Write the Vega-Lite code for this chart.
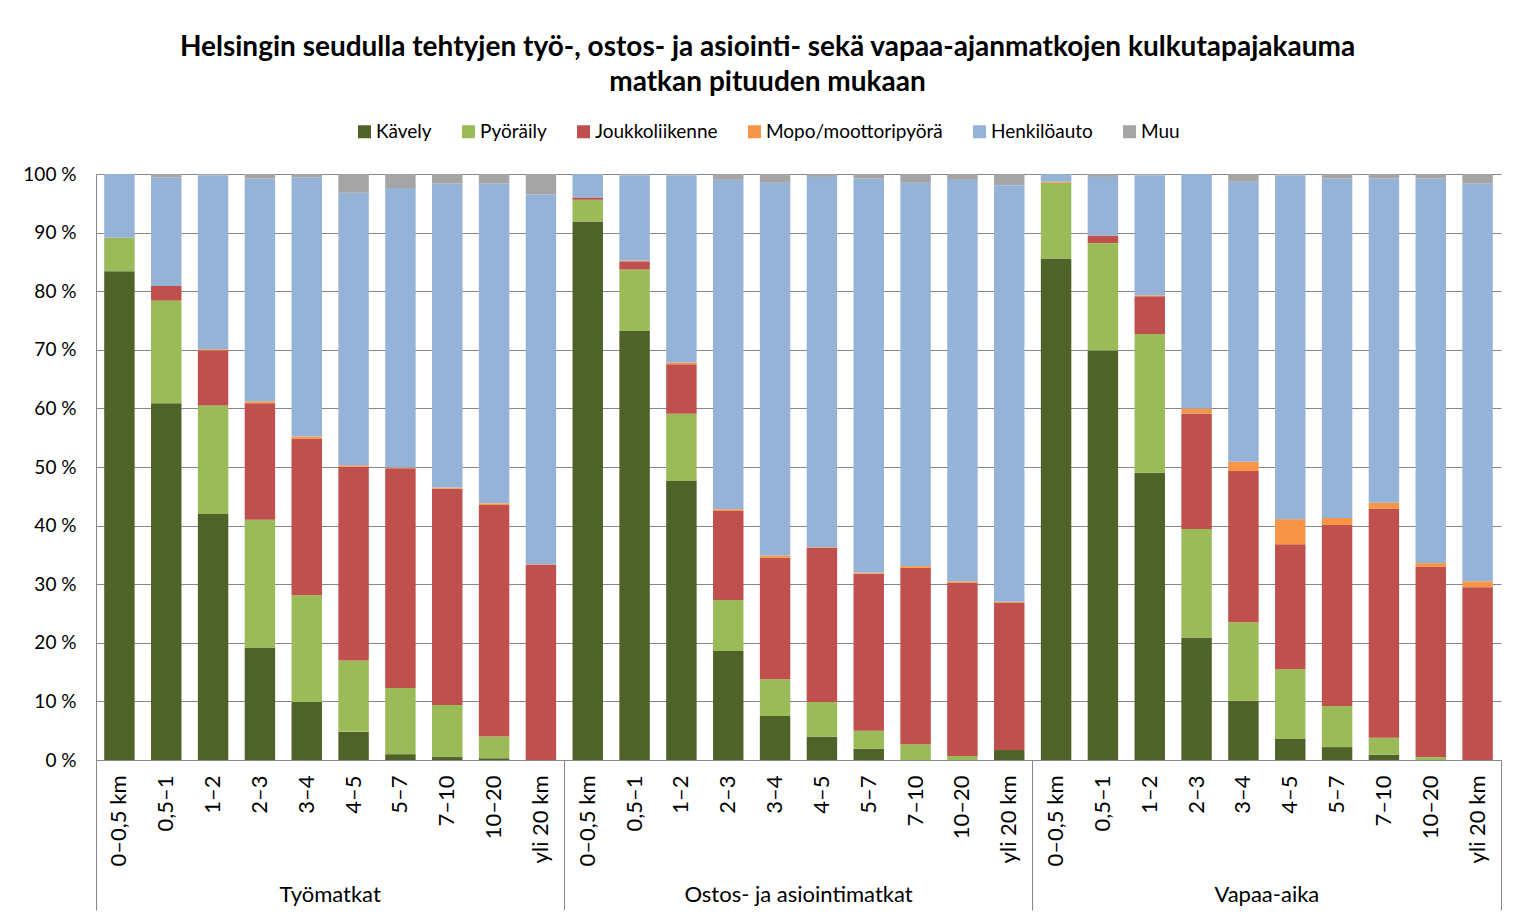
{
  "$schema": "https://vega.github.io/schema/vega-lite/v6.json",
  "width": 1405,
  "height": 586,
  "autosize": {"type": "none"},
  "padding": {"left": 96, "top": 174, "right": 24, "bottom": 159},
  "background": "white",
  "config": {"font": "Lato", "view": {"stroke": null}},
  "title": {
    "text": ["Helsingin seudulla tehtyjen työ-, ostos- ja asiointi- sekä vapaa-ajanmatkojen kulkutapajakauma", "matkan pituuden mukaan"],
    "fontSize": 28,
    "fontWeight": "bold",
    "color": "#000000",
    "anchor": "middle",
    "frame": "group",
    "dx": -31,
    "lineHeight": 35,
    "offset": 25
  },
  "datasets": {
    "modes": [
      {"m": "Kävely", "o": 1},
      {"m": "Pyöräily", "o": 2},
      {"m": "Joukkoliikenne", "o": 3},
      {"m": "Mopo/moottoripyörä", "o": 4},
      {"m": "Henkilöauto", "o": 5},
      {"m": "Muu", "o": 6}
    ]
  },
  "data": {
    "values": [
      {"k": "1-01", "Kävely": 83.4, "Pyöräily": 5.7, "Joukkoliikenne": 0, "Mopo/moottoripyörä": 0, "Henkilöauto": 10.9, "Muu": 0},
      {"k": "1-02", "Kävely": 60.9, "Pyöräily": 17.5, "Joukkoliikenne": 2.5, "Mopo/moottoripyörä": 0, "Henkilöauto": 18.5, "Muu": 0.6},
      {"k": "1-03", "Kävely": 42.0, "Pyöräily": 18.5, "Joukkoliikenne": 9.4, "Mopo/moottoripyörä": 0.2, "Henkilöauto": 29.7, "Muu": 0.2},
      {"k": "1-04", "Kävely": 19.2, "Pyöräily": 21.8, "Joukkoliikenne": 19.9, "Mopo/moottoripyörä": 0.3, "Henkilöauto": 38.0, "Muu": 0.8},
      {"k": "1-05", "Kävely": 9.9, "Pyöräily": 18.2, "Joukkoliikenne": 26.7, "Mopo/moottoripyörä": 0.4, "Henkilöauto": 44.2, "Muu": 0.6},
      {"k": "1-06", "Kävely": 4.8, "Pyöräily": 12.2, "Joukkoliikenne": 33.1, "Mopo/moottoripyörä": 0.2, "Henkilöauto": 46.5, "Muu": 3.2},
      {"k": "1-07", "Kävely": 1.0, "Pyöräily": 11.3, "Joukkoliikenne": 37.5, "Mopo/moottoripyörä": 0.1, "Henkilöauto": 47.7, "Muu": 2.4},
      {"k": "1-08", "Kävely": 0.5, "Pyöräily": 8.9, "Joukkoliikenne": 36.9, "Mopo/moottoripyörä": 0.2, "Henkilöauto": 51.85, "Muu": 1.65},
      {"k": "1-09", "Kävely": 0.3, "Pyöräily": 3.7, "Joukkoliikenne": 39.5, "Mopo/moottoripyörä": 0.3, "Henkilöauto": 54.55, "Muu": 1.65},
      {"k": "1-10", "Kävely": 0, "Pyöräily": 0, "Joukkoliikenne": 33.3, "Mopo/moottoripyörä": 0.1, "Henkilöauto": 63.1, "Muu": 3.5},
      {"k": "2-01", "Kävely": 91.9, "Pyöräily": 3.7, "Joukkoliikenne": 0.4, "Mopo/moottoripyörä": 0, "Henkilöauto": 4.0, "Muu": 0},
      {"k": "2-02", "Kävely": 73.2, "Pyöräily": 10.5, "Joukkoliikenne": 1.4, "Mopo/moottoripyörä": 0.1, "Henkilöauto": 14.6, "Muu": 0.2},
      {"k": "2-03", "Kävely": 47.6, "Pyöräily": 11.5, "Joukkoliikenne": 8.45, "Mopo/moottoripyörä": 0.3, "Henkilöauto": 31.95, "Muu": 0.2},
      {"k": "2-04", "Kävely": 18.6, "Pyöräily": 8.7, "Joukkoliikenne": 15.2, "Mopo/moottoripyörä": 0.3, "Henkilöauto": 56.2, "Muu": 1.0},
      {"k": "2-05", "Kävely": 7.5, "Pyöräily": 6.3, "Joukkoliikenne": 20.7, "Mopo/moottoripyörä": 0.4, "Henkilöauto": 63.6, "Muu": 1.5},
      {"k": "2-06", "Kävely": 4.0, "Pyöräily": 5.9, "Joukkoliikenne": 26.3, "Mopo/moottoripyörä": 0.1, "Henkilöauto": 63.2, "Muu": 0.5},
      {"k": "2-07", "Kävely": 1.9, "Pyöräily": 3.1, "Joukkoliikenne": 26.8, "Mopo/moottoripyörä": 0.2, "Henkilöauto": 67.2, "Muu": 0.8},
      {"k": "2-08", "Kävely": 0, "Pyöräily": 2.7, "Joukkoliikenne": 30.1, "Mopo/moottoripyörä": 0.3, "Henkilöauto": 65.4, "Muu": 1.5},
      {"k": "2-09", "Kävely": 0, "Pyöräily": 0.7, "Joukkoliikenne": 29.6, "Mopo/moottoripyörä": 0.2, "Henkilöauto": 68.5, "Muu": 1.0},
      {"k": "2-10", "Kävely": 1.7, "Pyöräily": 0, "Joukkoliikenne": 25.1, "Mopo/moottoripyörä": 0.2, "Henkilöauto": 71.1, "Muu": 1.9},
      {"k": "3-01", "Kävely": 85.6, "Pyöräily": 12.9, "Joukkoliikenne": 0, "Mopo/moottoripyörä": 0.2, "Henkilöauto": 1.3, "Muu": 0},
      {"k": "3-02", "Kävely": 69.9, "Pyöräily": 18.3, "Joukkoliikenne": 1.3, "Mopo/moottoripyörä": 0, "Henkilöauto": 10.0, "Muu": 0.5},
      {"k": "3-03", "Kävely": 49.0, "Pyöräily": 23.7, "Joukkoliikenne": 6.45, "Mopo/moottoripyörä": 0.15, "Henkilöauto": 20.5, "Muu": 0.2},
      {"k": "3-04", "Kävely": 20.9, "Pyöräily": 18.5, "Joukkoliikenne": 19.75, "Mopo/moottoripyörä": 0.85, "Henkilöauto": 40.0, "Muu": 0},
      {"k": "3-05", "Kävely": 10.1, "Pyöräily": 13.4, "Joukkoliikenne": 25.8, "Mopo/moottoripyörä": 1.6, "Henkilöauto": 47.8, "Muu": 1.3},
      {"k": "3-06", "Kävely": 3.6, "Pyöräily": 11.9, "Joukkoliikenne": 21.3, "Mopo/moottoripyörä": 4.3, "Henkilöauto": 58.7, "Muu": 0.2},
      {"k": "3-07", "Kävely": 2.2, "Pyöräily": 7.0, "Joukkoliikenne": 30.9, "Mopo/moottoripyörä": 1.2, "Henkilöauto": 57.9, "Muu": 0.8},
      {"k": "3-08", "Kävely": 0.9, "Pyöräily": 2.9, "Joukkoliikenne": 39.1, "Mopo/moottoripyörä": 1.0, "Henkilöauto": 55.3, "Muu": 0.8},
      {"k": "3-09", "Kävely": 0, "Pyöräily": 0.5, "Joukkoliikenne": 32.45, "Mopo/moottoripyörä": 0.65, "Henkilöauto": 65.6, "Muu": 0.8},
      {"k": "3-10", "Kävely": 0, "Pyöräily": 0, "Joukkoliikenne": 29.5, "Mopo/moottoripyörä": 1.0, "Henkilöauto": 67.85, "Muu": 1.65}
    ]
  },
  "transform": [
    {"fold": ["Kävely", "Pyöräily", "Joukkoliikenne", "Mopo/moottoripyörä", "Henkilöauto", "Muu"], "as": ["m", "v"]},
    {"lookup": "m", "from": {"data": {"name": "modes"}, "key": "m", "fields": ["o"]}}
  ],
  "layer": [
    {
      "mark": {"type": "bar", "width": {"band": 0.65}},
      "encoding": {
        "x": {
          "field": "k", "type": "nominal",
          "scale": {"paddingInner": 0, "paddingOuter": 0},
          "axis": {
            "orient": "bottom", "title": null, "labelAngle": -90,
            "labelExpr": "['0–0,5 km','0,5–1','1–2','2–3','3–4','4–5','5–7','7–10','10–20','yli 20 km'][toNumber(substring(datum.value,2,4))-1]",
            "labelFontSize": 22, "labelColor": "#000000", "labelPadding": 15,
            "ticks": false, "domainColor": "#868686", "grid": false
          }
        },
        "y": {
          "field": "v", "type": "quantitative", "stack": "normalize",
          "scale": {"domain": [0, 1]},
          "axis": {
            "title": null, "values": [0, 0.1, 0.2, 0.3, 0.4, 0.5, 0.6, 0.7, 0.8, 0.9, 1],
            "labelExpr": "round(datum.value*100) + ' %'",
            "ticks": false, "labelPadding": 20, "labelFontSize": 19, "labelColor": "#000000",
            "gridColor": "#868686", "domainColor": "#868686"
          }
        },
        "color": {
          "field": "m", "type": "nominal",
          "scale": {
            "domain": ["Kävely", "Pyöräily", "Joukkoliikenne", "Mopo/moottoripyörä", "Henkilöauto", "Muu"],
            "range": ["#4F6228", "#9BBB59", "#C0504D", "#F79646", "#95B3D7", "#A5A5A5"]
          },
          "legend": {
            "orient": "none", "legendX": 259, "legendY": -52, "direction": "horizontal",
            "title": null, "symbolType": "square", "symbolSize": 169, "symbolStrokeWidth": 0,
            "labelFontSize": 19, "labelOffset": 2, "columnPadding": 27, "labelColor": "#000000", "padding": 0, "labelLimit": 400
          }
        },
        "order": {"field": "o", "type": "quantitative"}
      }
    },
    {
      "mark": {"type": "rule", "opacity": 0},
      "encoding": {
        "x": {
          "field": "k", "type": "nominal",
          "axis": {"orient": "bottom", "values": ["1-01", "2-01", "3-01"], "bandPosition": 0, "tickSize": 150, "tickColor": "#868686", "labels": false, "domain": false, "title": null, "grid": false}
        }
      }
    },
    {
      "mark": {"type": "rule", "opacity": 0},
      "encoding": {
        "x": {
          "field": "k", "type": "nominal",
          "axis": {"orient": "bottom", "values": ["3-10"], "bandPosition": 1, "tickSize": 150, "tickColor": "#868686", "labels": false, "domain": false, "title": null, "grid": false}
        }
      }
    },
    {
      "mark": {"type": "rule", "opacity": 0},
      "encoding": {
        "x": {
          "field": "k", "type": "nominal",
          "axis": {
            "orient": "bottom", "values": ["1-06", "2-06", "3-06"], "bandPosition": 0, "ticks": false, "domain": false, "title": null, "grid": false,
            "labelAngle": 0, "labelAlign": "center", "labelBaseline": "top", "labelPadding": 124, "labelFontSize": 22, "labelColor": "#000000",
            "labelOffset": -23.4, "labelLimit": 500,
            "labelExpr": "['Työmatkat','Ostos- ja asiointimatkat','Vapaa-aika'][toNumber(substring(datum.value,0,1))-1]"
          }
        }
      }
    }
  ],
  "resolve": {"axis": {"x": "independent"}}
}
